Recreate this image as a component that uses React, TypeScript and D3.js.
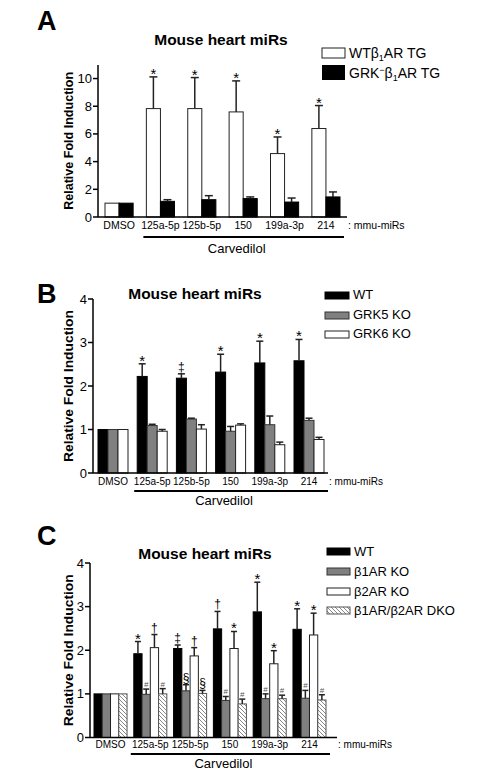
import React from 'react';
import * as d3 from 'd3';

const categories = ['DMSO', '125a-5p', '125b-5p', '150', '199a-3p', '214'];

// Panel A
const aWT = [1, 7.83, 7.83, 7.59, 4.58, 6.39];
const aWTerr = [0, 2.29, 2.24, 2.24, 1.2, 1.66];
const aGRK = [1, 1.13, 1.25, 1.33, 1.08, 1.45];
const aGRKerr = [0, 0.12, 0.29, 0.12, 0.29, 0.36];
const aWTsym = ['', '*', '*', '*', '*', '*'];
const aTicks = [0, 2, 4, 6, 8, 10];

// Panel B
const bWT = [1, 2.22, 2.18, 2.32, 2.53, 2.58];
const bWTerr = [0, 0.29, 0.1, 0.41, 0.5, 0.49];
const bK5 = [1, 1.09, 1.24, 0.96, 1.11, 1.21];
const bK5err = [0, 0.03, 0.02, 0.11, 0.2, 0.05];
const bK6 = [1, 0.96, 1.01, 1.1, 0.65, 0.77];
const bK6err = [0, 0.04, 0.1, 0.03, 0.06, 0.05];
const bWTsym = ['', '*', '‡', '*', '*', '*'];
const bTicks = [0, 1, 2, 3, 4];

// Panel C
const cWT = [1, 1.92, 2.04, 2.49, 2.88, 2.48];
const cWTerr = [0, 0.28, 0.08, 0.4, 0.68, 0.47];
const cB1 = [1, 0.99, 1.07, 0.85, 0.89, 0.9];
const cB1err = [0, 0.12, 0.14, 0.09, 0.11, 0.18];
const cB2 = [1, 2.06, 1.87, 2.04, 1.69, 2.35];
const cB2err = [0, 0.3, 0.19, 0.39, 0.3, 0.5];
const cDKO = [1, 1.0, 1.01, 0.77, 0.89, 0.86];
const cDKOerr = [0, 0.12, 0.07, 0.11, 0.08, 0.12];
const cWTsym = ['', '*', '‡', '†', '*', '*'];
const cB1sym = ['', '#', '§', '#', '#', '#'];
const cB2sym = ['', '†', '†', '*', '*', '*'];
const cDKOsym = ['', '#', '§', '#', '#', '#'];
const cTicks = [0, 1, 2, 3, 4];

const FONT = '"Liberation Sans", Arial, Helvetica, sans-serif';

type Series = { vals: number[]; errs: number[]; fill: string; stroke: string; syms?: string[] };

type PanelProps = {
  letter: string; letterY: number;
  titleX: number; titleY: number;
  axisX: number; y0: number; yTopPx: number; yMax: number; axisTop: number; ticks: number[];
  bandStart: number; bandEnd: number; padInner: number; axisEnd: number;
  series: Series[];
  labelY: number; underlineY: number; carvY: number;
  ylabelX: number;
  capW: number;
  labelSize: number;
};

function Panel(p: PanelProps) {
  const y = d3.scaleLinear().domain([0, p.yMax]).range([p.y0, p.yTopPx]);
  const x = d3.scaleBand<string>().domain(categories).range([p.bandStart, p.bandEnd]).paddingInner(p.padInner).paddingOuter(0);
  const inner = d3.scaleBand<number>().domain(d3.range(p.series.length)).range([0, x.bandwidth()]);
  const bw = inner.bandwidth();
  const ulStart = (x('125a-5p') as number) - 3;
  const ulEnd = (x('214') as number) + x.bandwidth() + 4;
  const ylabelCenter = (p.y0 + y(p.yMax)) / 2;
  return (
    <g>
      <text x={37} y={p.letterY} fontSize={27} fontWeight="bold" fontFamily={FONT}>{p.letter}</text>
      <text x={p.titleX} y={p.titleY} fontSize={15.5} fontWeight="bold" textAnchor="middle" fontFamily={FONT}>Mouse heart miRs</text>
      <text transform={`translate(${p.ylabelX},${ylabelCenter}) rotate(-90)`} textAnchor="middle" fontSize={13.5} fontWeight="bold" fontFamily={FONT} textLength={(p.y0 - p.axisTop) > 160 ? 152 : 138} lengthAdjust="spacingAndGlyphs">Relative Fold Induction</text>
      {categories.map((c, ci) => (
        <g key={c}>
          {p.series.map((s, si) => {
            const bx = (x(c) as number) + (inner(si) as number);
            const top = y(s.vals[ci]);
            const cx = bx + bw / 2;
            const et = y(s.vals[ci] + s.errs[ci]);
            const sym = s.syms ? s.syms[ci] : '';
            const small = sym === '#';
            const isStar = sym === '*';
            return (
              <g key={si}>
                <rect x={bx} y={top} width={bw} height={p.y0 - top} fill={s.fill} stroke={s.stroke} strokeWidth={1} />
                {s.errs[ci] > 0 && (
                  <g stroke="#222" strokeWidth={1.5}>
                    <line x1={cx} x2={cx} y1={top} y2={et} />
                    <line x1={cx - p.capW / 2} x2={cx + p.capW / 2} y1={et} y2={et} />
                  </g>
                )}
                {sym && (
                  <text x={cx} y={isStar ? et + 2 : small ? et - 2 : et - 3} textAnchor="middle"
                    fontSize={small ? 8 : isStar ? 15 : 12} fill={small ? '#555' : '#000'} fontFamily={FONT}>{sym}</text>
                )}
              </g>
            );
          })}
        </g>
      ))}
      <line x1={p.axisX} x2={p.axisX} y1={p.y0} y2={p.axisTop} stroke="#000" strokeWidth={1.5} />
      {p.ticks.map(t => (
        <g key={t}>
          <line x1={p.axisX - 5} x2={p.axisX} y1={y(t)} y2={y(t)} stroke="#000" strokeWidth={1.5} />
          <text x={p.axisX - 6} y={y(t) + 4.5} textAnchor="end" fontSize={13} fontFamily={FONT}>{t}</text>
        </g>
      ))}
      <line x1={p.axisX} x2={p.axisEnd} y1={p.y0} y2={p.y0} stroke="#000" strokeWidth={1.5} />
      {categories.map(c => (
        <text key={c} x={(x(c) as number) + x.bandwidth() / 2} y={p.labelY} textAnchor="middle" fontSize={p.labelSize} fontFamily={FONT}>{c}</text>
      ))}
      <text x={p.axisEnd + 1} y={p.labelY} fontSize={p.labelSize} fontFamily={FONT}>: mmu-miRs</text>
      <line x1={ulStart} x2={ulEnd} y1={p.underlineY} y2={p.underlineY} stroke="#000" strokeWidth={2} />
      <text x={(ulStart + ulEnd) / 2 - 7} y={p.carvY} textAnchor="middle" fontSize={13} fontFamily={FONT}>Carvedilol</text>
    </g>
  );
}

export default function App() {
  const hatch = 'url(#hatch)';
  return (
    <svg width={491} height={780} style={{ position: 'absolute', left: 0, top: 0, background: '#fff' }} fontFamily={FONT}>
      <defs>
        <pattern id="hatch" patternUnits="userSpaceOnUse" width={4} height={4}>
          <rect width={4} height={4} fill="#fff" />
          <path d="M-1,-1 L5,5 M-1,3 L1,5 M3,-1 L5,1" stroke="#888" strokeWidth={1} />
        </pattern>
      </defs>
      <rect width={491} height={780} fill="#fff" />

      <Panel letter="A" letterY={30} titleX={221} titleY={45}
        axisX={98} y0={217} yTopPx={64.7} yMax={11} axisTop={65} ticks={aTicks}
        bandStart={105} bandEnd={340} padInner={0.32} axisEnd={347}
        series={[
          { vals: aWT, errs: aWTerr, fill: '#fff', stroke: '#222', syms: aWTsym },
          { vals: aGRK, errs: aGRKerr, fill: '#000', stroke: '#000' },
        ]}
        labelY={229} underlineY={237} carvY={253} ylabelX={73} capW={8} labelSize={10.5} />
      <g fontFamily={FONT}>
        <rect x={322} y={48} width={23} height={10} fill="#fff" stroke="#222" strokeWidth={1} />
        <text x={349} y={58} fontSize={14}>WTβ<tspan fontSize={9} dy={3}>1</tspan><tspan dy={-3}>AR TG</tspan></text>
        <rect x={322} y={65} width={23} height={15} fill="#000" />
        <text x={349} y={78} fontSize={14}>GRK<tspan fontSize={9} dy={-5}>−</tspan><tspan dy={5}>β</tspan><tspan fontSize={9} dy={3}>1</tspan><tspan dy={-3}>AR TG</tspan></text>
      </g>

      <Panel letter="B" letterY={303} titleX={195} titleY={299}
        axisX={93} y0={473} yTopPx={299} yMax={4} axisTop={299} ticks={bTicks}
        bandStart={98} bandEnd={324} padInner={0.235} axisEnd={328}
        series={[
          { vals: bWT, errs: bWTerr, fill: '#000', stroke: '#000', syms: bWTsym },
          { vals: bK5, errs: bK5err, fill: '#808080', stroke: '#333' },
          { vals: bK6, errs: bK6err, fill: '#fff', stroke: '#222' },
        ]}
        labelY={485} underlineY={491} carvY={505} ylabelX={73} capW={7} labelSize={10} />
      <g fontFamily={FONT}>
        <rect x={325} y={292} width={24} height={7} fill="#000" stroke="#000" />
        <text x={353} y={299} fontSize={13}>WT</text>
        <rect x={325} y={312} width={24} height={7} fill="#808080" stroke="#333" />
        <text x={353} y={319} fontSize={13}>GRK5 KO</text>
        <rect x={325} y={331} width={24} height={7} fill="#fff" stroke="#222" />
        <text x={353} y={338} fontSize={13}>GRK6 KO</text>
      </g>

      <Panel letter="C" letterY={545} titleX={205} titleY={559}
        axisX={90} y0={737.5} yTopPx={563} yMax={4} axisTop={563} ticks={cTicks}
        bandStart={94} bandEnd={326} padInner={0.17} axisEnd={337}
        series={[
          { vals: cWT, errs: cWTerr, fill: '#000', stroke: '#000', syms: cWTsym },
          { vals: cB1, errs: cB1err, fill: '#808080', stroke: '#333', syms: cB1sym },
          { vals: cB2, errs: cB2err, fill: '#fff', stroke: '#222', syms: cB2sym },
          { vals: cDKO, errs: cDKOerr, fill: hatch, stroke: '#555', syms: cDKOsym },
        ]}
        labelY={748} underlineY={754} carvY={768} ylabelX={73} capW={6} labelSize={10} />
      <g fontFamily={FONT}>
        <rect x={327} y={548} width={23} height={7} fill="#000" stroke="#000" />
        <text x={354} y={556} fontSize={13}>WT</text>
        <rect x={327} y={568} width={23} height={7} fill="#808080" stroke="#333" />
        <text x={354} y={576} fontSize={13}>β1AR KO</text>
        <rect x={327} y={588} width={23} height={7} fill="#fff" stroke="#222" />
        <text x={354} y={596} fontSize={13}>β2AR KO</text>
        <rect x={327} y={607} width={23} height={7} fill={hatch} stroke="#555" />
        <text x={354} y={615} fontSize={13}>β1AR/β2AR DKO</text>
      </g>
    </svg>
  );
}
